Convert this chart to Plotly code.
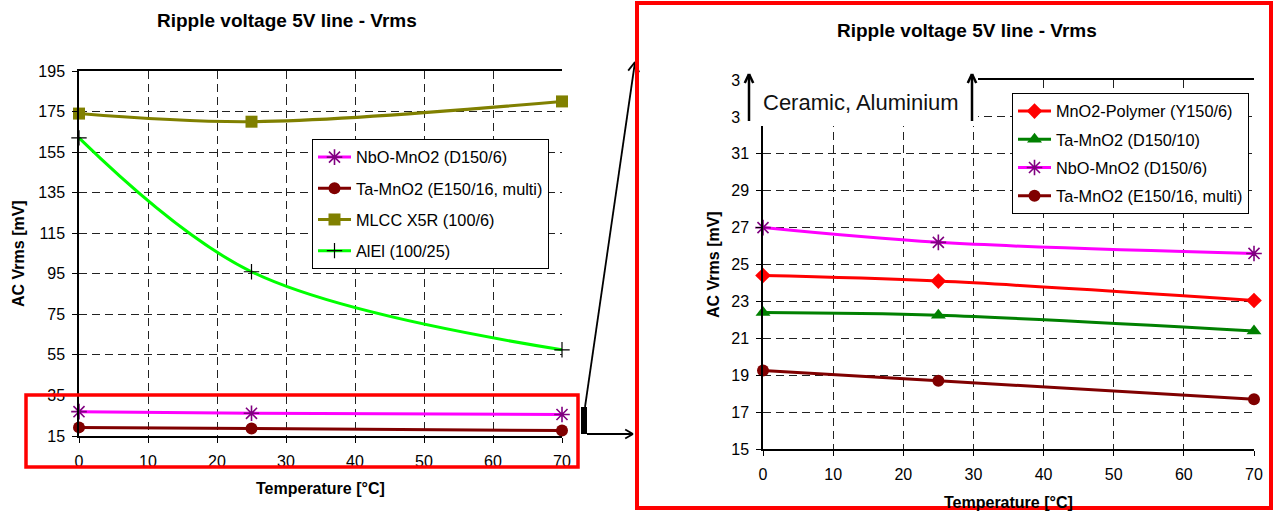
import math
import plotly.graph_objects as go

W, H = 1273, 511
FONT = "Liberation Sans, Arial, sans-serif"

# ---------------- data ----------------
temps = [0, 25, 70]

nbo_mno2 = [27.0, 26.2, 25.6]          # NbO-MnO2 (D150/6)
ta_e150 = [19.25, 18.7, 17.7]          # Ta-MnO2 (E150/16, multi)
mlcc_x5r = [174.0, 170.0, 180.0]       # MLCC X5R (100/6)
alel = [162.0, 96.0, 57.5]             # AlEl (100/25)
mno2_polymer = [24.4, 24.1, 23.05]     # MnO2-Polymer (Y150/6)
ta_d150 = [22.4, 22.25, 21.4]          # Ta-MnO2 (D150/10)

x_ticks = [0, 10, 20, 30, 40, 50, 60, 70]
left_yticks = [15, 35, 55, 75, 95, 115, 135, 155, 175, 195]
right_yticks = [15, 17, 19, 21, 23, 25, 27, 29, 31, 33, 35]
right_yticklabels = ["15", "17", "19", "21", "23", "25", "27", "29", "31", "33", "35"]


def px(x):
    return x / W


def py(y):
    return 1 - y / H


def series(x, y, name, color, symbol, msize, mcolor, xa, ya, legend, open_sym=False, mlw=1.6):
    return go.Scatter(
        x=x, y=y, name=name, mode="lines+markers",
        line=dict(color=color, width=3, shape="spline", smoothing=1),
        marker=dict(symbol=symbol, size=msize, color=mcolor,
                    line=dict(color=mcolor, width=mlw if open_sym else 0)),
        xaxis=xa, yaxis=ya, legend=legend, legendgroup=name + legend,
        cliponaxis=False,
    )


fig = go.Figure()
# left chart
fig.add_trace(series(temps, nbo_mno2, "NbO-MnO2 (D150/6)", "#FF00FF", "asterisk-open", 13, "#800080", "x", "y", "legend", True))
fig.add_trace(series(temps, ta_e150, "Ta-MnO2 (E150/16, multi)", "#800000", "circle", 12, "#800000", "x", "y", "legend"))
fig.add_trace(series(temps, mlcc_x5r, "MLCC X5R (100/6)", "#808000", "square", 12, "#808000", "x", "y", "legend"))
fig.add_trace(series(temps, alel, "AlEl (100/25)", "#00FF00", "cross-thin-open", 11, "#000000", "x", "y", "legend", True, 1.2))
# right chart
fig.add_trace(series(temps, mno2_polymer, "MnO2-Polymer (Y150/6)", "#FF0000", "diamond", 12, "#FF0000", "x2", "y2", "legend2"))
fig.add_trace(series(temps, ta_d150, "Ta-MnO2 (D150/10)", "#008000", "triangle-up", 13, "#008000", "x2", "y2", "legend2"))
fig.add_trace(series(temps, nbo_mno2, "NbO-MnO2 (D150/6)", "#FF00FF", "asterisk-open", 13, "#800080", "x2", "y2", "legend2", True))
fig.add_trace(series(temps, ta_e150, "Ta-MnO2 (E150/16, multi)", "#800000", "circle", 12, "#800000", "x2", "y2", "legend2"))

grid = dict(showgrid=True, gridcolor="#222222", gridwidth=1, griddash="8px,5px",
            showline=True, linecolor="black", linewidth=1.5, zeroline=False,
            ticks="outside", ticklen=5, tickcolor="black", tickwidth=1,
            automargin=False,
            tickfont=dict(family=FONT, size=16, color="black"))

fig.update_layout(
    width=W, height=H, margin=dict(l=0, r=0, t=0, b=0, pad=0, autoexpand=False),
    paper_bgcolor="white", plot_bgcolor="white",
    font=dict(family=FONT, color="black"),
    xaxis=dict(domain=[px(79), px(562)], range=[0, 70], tickvals=x_ticks, mirror=True,
               anchor="y", ticklabelstandoff=5, **grid),
    yaxis=dict(domain=[py(436), py(71)], range=[15, 195], tickvals=left_yticks,
               anchor="x", ticklabelstandoff=4, **grid),
    xaxis2=dict(domain=[px(763), px(1254)], range=[0, 70], tickvals=x_ticks, mirror=True,
                anchor="y2", ticklabelstandoff=5, **grid),
    yaxis2=dict(domain=[py(449), py(80)], range=[15, 35], tickvals=right_yticks,
                ticktext=right_yticklabels, anchor="x2", ticklabelstandoff=4, **grid),
    legend=dict(x=px(312), y=py(139), xanchor="left", yanchor="top", itemwidth=33,
                bordercolor="black", borderwidth=1, bgcolor="white",
                font=dict(family=FONT, size=16.3, color="black"), tracegroupgap=7),
    legend2=dict(x=px(1012), y=py(93), xanchor="left", yanchor="top", itemwidth=33,
                 bordercolor="black", borderwidth=1, bgcolor="white",
                 font=dict(family=FONT, size=16.3, color="black"), tracegroupgap=4),
)

ann = []


def text(x, y, s, size, bold=False, angle=0, color="black"):
    ann.append(dict(x=px(x), y=py(y), xref="paper", yref="paper", showarrow=False,
                    text=f"<b>{s}</b>" if bold else s, textangle=angle,
                    font=dict(family=FONT, size=size, color=color),
                    xanchor="center", yanchor="middle"))


text(287, 21, "Ripple voltage 5V line - Vrms", 19, True)
text(967, 30, "Ripple voltage 5V line - Vrms", 19, True)
text(18, 254, "AC Vrms [mV]", 16, True, -90)
text(713, 265, "AC Vrms [mV]", 16, True, -90)
text(320, 488, "Temperature [°C]", 16, True)
text(1008, 502, "Temperature [°C]", 16, True)
text(861, 102, "Ceramic, Aluminium", 22, False, 0, "#111111")

shapes = []


def rect(x0, y0, x1, y1, line_color=None, lw=0, fill=None):
    shapes.append(dict(type="rect", xref="paper", yref="paper", layer="above",
                       x0=px(x0), x1=px(x1), y0=py(y0), y1=py(y1),
                       line=dict(color=line_color or "rgba(0,0,0,0)", width=lw),
                       fillcolor=fill or "rgba(0,0,0,0)"))


def seg(x0, y0, x1, y1, color="black", lw=2):
    shapes.append(dict(type="line", xref="paper", yref="paper", layer="above",
                       x0=px(x0), x1=px(x1), y0=py(y0), y1=py(y1),
                       line=dict(color=color, width=lw)))


def arrow(x0, y0, x1, y1, lw=2, head=10, spread=30):
    seg(x0, y0, x1, y1, lw=lw)
    ang = math.atan2(y0 - y1, x0 - x1)
    for s in (-1, 1):
        a = ang + s * math.radians(spread)
        seg(x1, y1, x1 + head * math.cos(a), y1 + head * math.sin(a), lw=lw)


# left: zoom box and connectors
rect(26, 395, 578, 467, "#FF0000", 3.5)
rect(581, 407, 587, 434, "black", 0, "black")
arrow(587, 434, 633, 434, lw=1.8, head=9)
arrow(585, 407, 635, 62, lw=1.8, head=11)
# cover for the break at the top of the right chart
rect(741, 68, 978, 126, None, 0, "white")
arrow(749, 121, 749, 74, lw=2.5, head=10, spread=25)
arrow(972, 121, 972, 74, lw=2.5, head=10, spread=25)
# right frame
rect(637, 3, 1271, 508, "#FF0000", 4)

fig.update_layout(annotations=ann, shapes=shapes)
fig.write_html("out.html")
